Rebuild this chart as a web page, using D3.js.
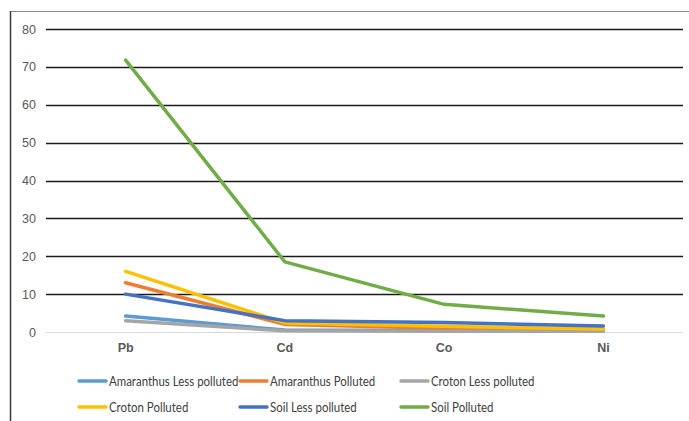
<!DOCTYPE html>
<html>
<head>
<meta charset="utf-8">
<script src="https://cdn.jsdelivr.net/npm/d3@7"></script>
<style>
  html, body { margin: 0; padding: 0; background: #fff; }
  svg { display: block; font-family: Lato, "Open Sans", sans-serif; }
</style>
</head>
<body>
<svg id="chart" width="689" height="421"></svg>
<script>
// Metal concentrations by sample group
const metals = ["Pb", "Cd", "Co", "Ni"];
const seriesNames = ["Amaranthus Less polluted", "Amaranthus Polluted", "Croton Less polluted",
                     "Croton Polluted", "Soil Less polluted", "Soil Polluted"];
const amaranthusLess = [4.2, 0.5, 0.4, 0.3];
const amaranthusPolluted = [13, 2, 1, 0.7];
const crotonLess = [3, 0.3, 0.2, 0.2];
const crotonPolluted = [16, 2.4, 1.5, 0.8];
const soilLess = [10, 3, 2.5, 1.6];
const soilPolluted = [71.8, 18.5, 7.3, 4.2];
const yTicks = [0, 10, 20, 30, 40, 50, 60, 70, 80];
const colors = ["#5B9BD5", "#ED7D31", "#A5A5A5", "#FFC000", "#4472C4", "#70AD47"];

const seriesValues = [amaranthusLess, amaranthusPolluted, crotonLess, crotonPolluted, soilLess, soilPolluted];
const series = seriesNames.map((name, i) => ({ name, values: seriesValues[i], color: colors[i] }));

const svg = d3.select("#chart");

// frame: top and left edges
svg.append("line").attr("x1", 10).attr("x2", 689).attr("y1", 11.5).attr("y2", 11.5)
  .attr("stroke", "#8c8c8c").attr("stroke-width", 1);
svg.append("line").attr("x1", 10.5).attr("x2", 10.5).attr("y1", 11).attr("y2", 421)
  .attr("stroke", "#3a3a3a").attr("stroke-width", 1.5);

const plot = { left: 46, right: 683, top: 29, bottom: 332 };

const x = d3.scaleBand().domain(metals).range([plot.left, plot.right]);
const y = d3.scaleLinear().domain([0, 80]).range([plot.bottom, plot.top]);

// gridlines
svg.append("g").selectAll("line").data(yTicks).join("line")
  .attr("x1", plot.left).attr("x2", plot.right)
  .attr("y1", d => Math.round(y(d)) + 0.5).attr("y2", d => Math.round(y(d)) + 0.5)
  .attr("stroke", d => d === 0 ? "#d9d9d9" : "#1a1a1a")
  .attr("stroke-width", d => d === 0 ? 1 : 1.6);

// y axis labels
const yAxis = d3.axisLeft(y).tickValues(yTicks).tickSize(0).tickPadding(0);
const yg = svg.append("g").attr("transform", `translate(${plot.left - 10},0)`).call(yAxis);
yg.select(".domain").remove();
yg.selectAll("text").attr("fill", "#595959").attr("font-size", 12.5);

// x axis labels
const xAxis = d3.axisBottom(x).tickSize(0).tickPadding(0);
const xg = svg.append("g").attr("transform", `translate(0,${plot.bottom + 11})`).call(xAxis);
xg.select(".domain").remove();
xg.selectAll("text").attr("fill", "#595959").attr("font-size", 12.5).attr("font-weight", "bold");

// series lines
const line = d3.line()
  .x((d, i) => x(metals[i]) + x.bandwidth() / 2)
  .y(d => y(d));

svg.append("g").selectAll("path").data(series).join("path")
  .attr("d", d => line(d.values))
  .attr("fill", "none")
  .attr("stroke", d => d.color)
  .attr("stroke-width", 3.5)
  .attr("stroke-linejoin", "round")
  .attr("stroke-linecap", "round");

// legend: two rows of three
const legendCols = [79, 240, 401];
const legendRows = [381, 407];
const lg = svg.append("g").selectAll("g").data(series).join("g")
  .attr("transform", (d, i) => `translate(${legendCols[i % 3]},${legendRows[Math.floor(i / 3)]})`);
lg.append("line").attr("x1", 0).attr("x2", 27).attr("y1", 0).attr("y2", 0)
  .attr("stroke", d => d.color).attr("stroke-width", 3.5).attr("stroke-linecap", "round");
lg.append("text").attr("transform", "translate(30,0) scale(0.85,1)").attr("dy", "0.35em")
  .attr("fill", "#404040").attr("font-size", 13.5)
  .text(d => d.name);
</script>
</body>
</html>
